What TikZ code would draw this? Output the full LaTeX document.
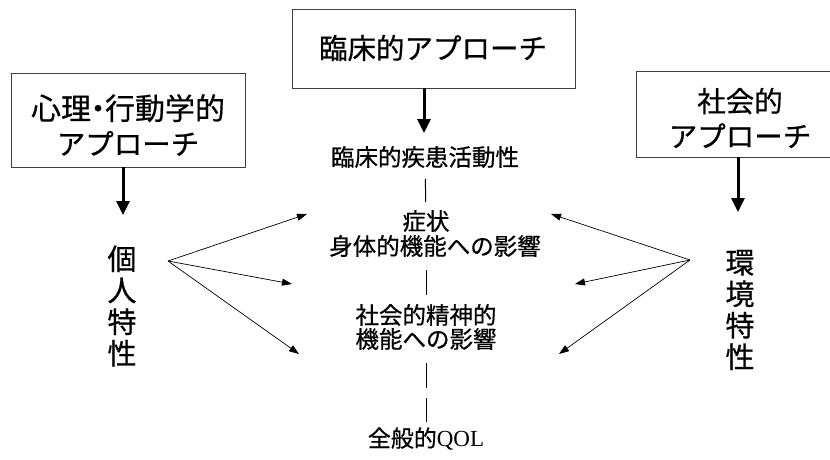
\documentclass[tikz,border=0pt]{standalone}
\usepackage{fontspec}
\setmainfont{Liberation Serif}
\newfontfamily\jp[FakeBold=0.6]{Noto Sans CJK JP}
\usetikzlibrary{arrows.meta}
\begin{document}
\begin{tikzpicture}[x=1pt,y=-1pt,
  bigtxt/.style={font=\jp\fontsize{28.5}{35}\selectfont,align=center,inner sep=0pt},
  midtxt/.style={font=\jp\fontsize{23.5}{25}\selectfont,align=center,inner sep=0pt},
  vtxt/.style={font=\jp\fontsize{29}{31.5}\selectfont,align=center,inner sep=0pt},
  boxline/.style={draw=black!75,line width=0.8pt},
  thick arrow/.style={line width=3pt,-{Triangle[width=13pt,length=14pt]}},
  thin arrow/.style={line width=0.7pt,-{Triangle[width=7pt,length=10pt]}},
  vline/.style={line width=1pt}]
\useasboundingbox (0,0) rectangle (830,460);
\fill[white] (0,0) rectangle (830,460);
% boxes
\draw[boxline] (11,73) rectangle (245,167);
\draw[boxline] (292,9) rectangle (575,88);
\draw[boxline] (840,71) -- (636,71) -- (636,157) -- (840,157);
\node[bigtxt] (lbox) at (128,125) {{\fontsize{30}{35}\selectfont 心理\kern-8pt・\kern-8pt行動学的}\\アプローチ};
\node[bigtxt] (cbox) at (433,48) {臨床的アプローチ};
\node[bigtxt] (rbox) at (740,118) {社会的\\アプローチ};
% vertical texts
\node[vtxt] (pers) at (122,306) {個\\人\\特\\性};
\node[vtxt] (env) at (740,310) {環\\境\\特\\性};
% middle column
\node[midtxt] (act) at (425,157) {臨床的疾患活動性};
\node[midtxt] (sym1) at (426,221) {症状};
\node[midtxt] (sym2) at (435,246) {身体的機能への影響};
\node[midtxt] (psy1) at (426,315) {社会的精神的};
\node[midtxt] (psy2) at (426,339) {機能への影響};
\node[font=\fontsize{23}{25}\selectfont,inner sep=0pt] (qol) at (426,439) {{\jp 全般的}QOL};
% thick arrows
\coordinate (la) at (123,167);
\coordinate (lt) at (123,215);
\coordinate (ca) at (424,88);
\coordinate (ct) at (424,133);
\coordinate (ra) at (738,157);
\coordinate (rt) at (738,212);
\draw[thick arrow] (la) -- (lt);
\draw[thick arrow] (ca) -- (ct);
\draw[thick arrow] (ra) -- (rt);
% dashed column connectors
\draw[vline,shorten <=22pt,shorten >=19pt] (act.center) -- (sym1.center);
\draw[vline,shorten <=24pt,shorten >=20pt] ([xshift=-9pt]sym2.center) -- (psy1.center);
\draw[vline,shorten <=24pt,shorten >=17pt,dash pattern=on 25pt off 10pt] (psy2.center) -- (qol.center);
% thin arrows
\coordinate (lo) at (168,261);
\coordinate (l1) at (307,214);
\coordinate (l2) at (292,284);
\coordinate (l3) at (299,354);
\coordinate (ro) at (690,260);
\coordinate (r1) at (551,214);
\coordinate (r2) at (575,284);
\coordinate (r3) at (559,354);
\draw[thin arrow] (lo) -- (l1);
\draw[thin arrow] (lo) -- (l2);
\draw[thin arrow] (lo) -- (l3);
\draw[thin arrow] (ro) -- (r1);
\draw[thin arrow] (ro) -- (r2);
\draw[thin arrow] (ro) -- (r3);
\end{tikzpicture}
\end{document}
